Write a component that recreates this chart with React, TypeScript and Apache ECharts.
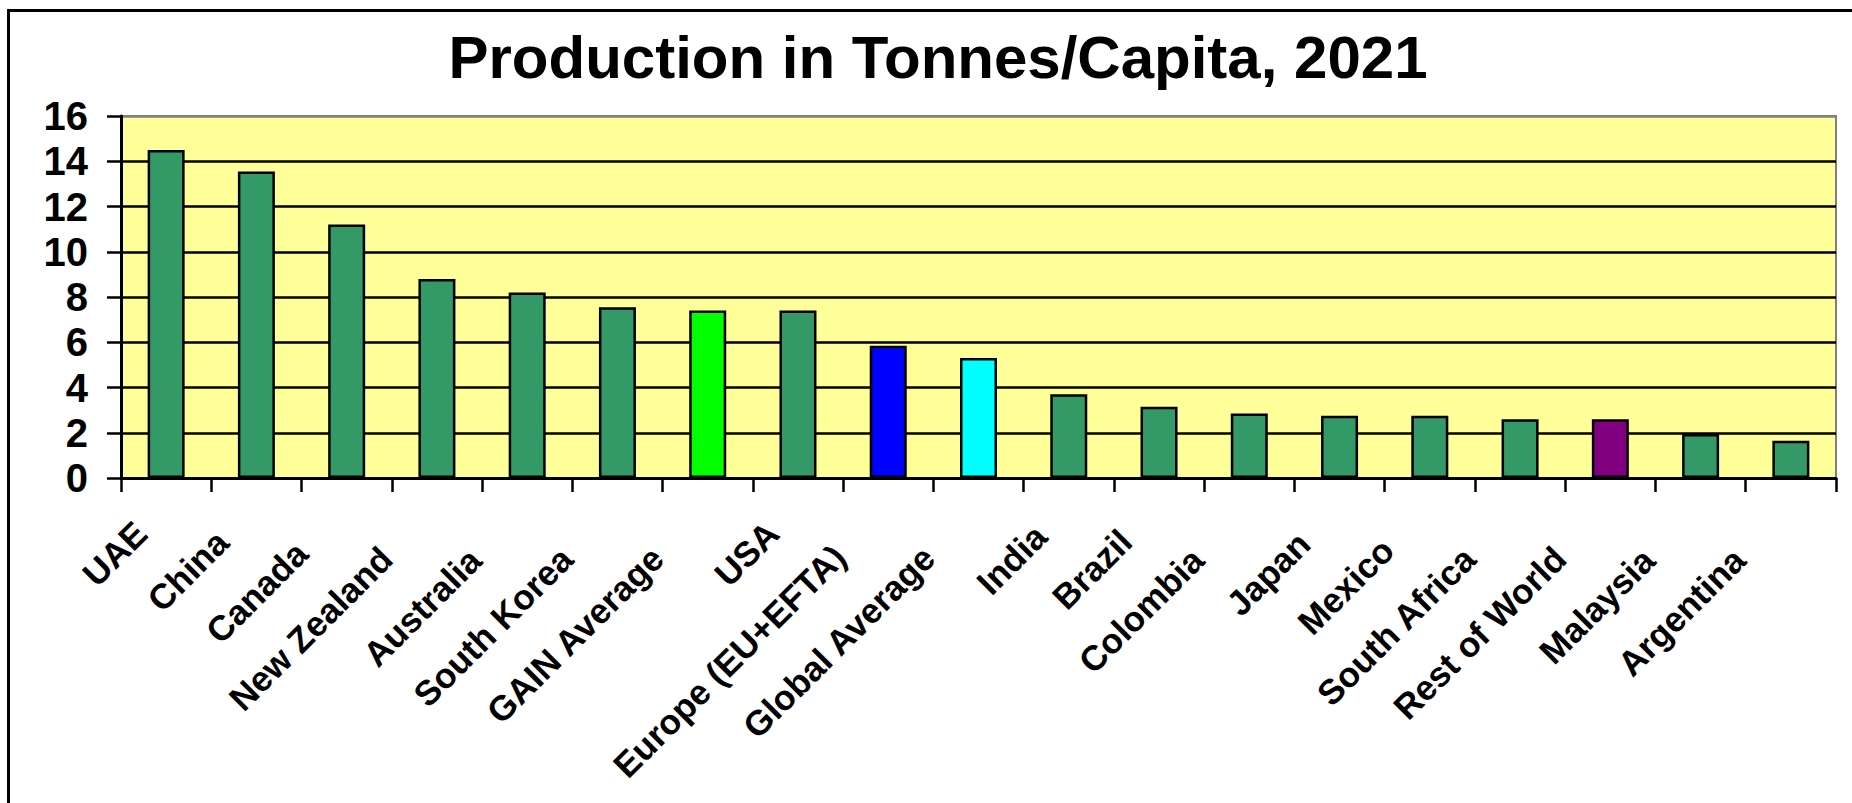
import React, { useEffect, useRef } from "react";
import * as echarts from "echarts";

const titleText = "Production in Tonnes/Capita, 2021";
const categories = [
  "UAE",
  "China",
  "Canada",
  "New Zealand",
  "Australia",
  "South Korea",
  "GAIN Average",
  "USA",
  "Europe (EU+EFTA)",
  "Global Average",
  "India",
  "Brazil",
  "Colombia",
  "Japan",
  "Mexico",
  "South Africa",
  "Rest of World",
  "Malaysia",
  "Argentina",
];
const values = [14.5, 13.55, 11.2, 8.8, 8.2, 7.55, 7.4, 7.4, 5.85, 5.3, 3.7, 3.15, 2.85, 2.75, 2.75, 2.6, 2.6, 1.95, 1.65];
const barColors = [
  "#339966", "#339966", "#339966", "#339966", "#339966", "#339966",
  "#00FF00", "#339966", "#0000FF", "#00FFFF", "#339966", "#339966",
  "#339966", "#339966", "#339966", "#339966", "#800080", "#339966", "#339966",
];
const yMin = 0;
const yMax = 16;
const yInterval = 2;

const FONT = "'Liberation Sans', Arial, Helvetica, sans-serif";
const X_FS = 35;

function measure(text: string, size: number): number {
  const c = document.createElement("canvas").getContext("2d");
  if (!c) return text.length * size * 0.6;
  c.font = `bold ${size}px 'Liberation Sans', Arial, sans-serif`;
  return c.measureText(text).width;
}

export default function App() {
  const ref = useRef<HTMLDivElement>(null);
  useEffect(() => {
    if (!ref.current) return;
    const chart = echarts.init(ref.current, null, { renderer: "svg" });
    const splitColors = [] as string[];
    for (let v = yMin; v <= yMax; v += yInterval) splitColors.push(v === yMax ? "#808080" : "#000000");

    // Excel-like label offset: short labels sit nearer the tick, long ones are pushed back
    const rich: Record<string, any> = {};
    categories.forEach((c, i) => {
      const l33 = measure(c, 33);
      const pad = Math.min(78, 37 + 0.6 * (l33 - 68)) - 0.03 * l33;
      rich["p" + i] = {
        fontFamily: FONT,
        fontSize: X_FS,
        fontWeight: "bold",
        color: "#000",
        padding: [0, Math.max(0, pad), 0, 0],
      };
    });

    chart.setOption({
      animation: false,
      backgroundColor: "#FFFFFF",
      title: {
        text: titleText,
        left: 938,
        textAlign: "center",
        top: 27,
        padding: 0,
        textStyle: { fontFamily: FONT, fontSize: 60, fontWeight: "bold", color: "#000" },
      },
      graphic: [
        {
          type: "rect",
          shape: { x: 8.5, y: 10.5, width: 1900, height: 900 },
          style: { fill: "none", stroke: "#000", lineWidth: 3 },
          silent: true,
          z: 100,
        },
      ],
      grid: {
        left: 121,
        top: 116,
        right: 16,
        bottom: 325,
        show: true,
        backgroundColor: "#FFFF99",
        borderColor: "#808080",
        borderWidth: 2,
      },
      xAxis: {
        type: "category",
        data: categories,
        boundaryGap: true,
        axisLine: { show: true, lineStyle: { color: "#000", width: 3 } },
        axisTick: { show: true, length: 14, lineStyle: { color: "#000", width: 2.5 }, interval: 0 },
        axisLabel: {
          interval: 0,
          rotate: 45,
          margin: 24,
          fontFamily: FONT,
          fontSize: X_FS,
          fontWeight: "bold",
          color: "#000",
          formatter: (val: string, idx: number) => `{p${idx}|${val}}`,
          rich,
        },
        splitLine: { show: false },
      },
      yAxis: {
        type: "value",
        min: yMin,
        max: yMax,
        interval: yInterval,
        axisLine: { show: true, lineStyle: { color: "#000", width: 3 } },
        axisTick: { show: true, length: 14, lineStyle: { color: "#000", width: 2.5 } },
        axisLabel: {
          margin: 33,
          fontFamily: FONT,
          fontSize: 40,
          fontWeight: "bold",
          color: "#000",
        },
        splitLine: { show: true, lineStyle: { color: splitColors, width: 2.5 } },
      },
      series: [
        {
          type: "bar",
          data: values.map((v, i) => ({ value: v, itemStyle: { color: barColors[i] } })),
          barWidth: 37,
          itemStyle: { borderColor: "#000", borderWidth: 2.5 },
        },
      ],
    });
    return () => chart.dispose();
  }, []);
  return (
    <div
      ref={ref}
      style={{ position: "absolute", left: 0, top: 0, width: 1852, height: 803 }}
    />
  );
}
